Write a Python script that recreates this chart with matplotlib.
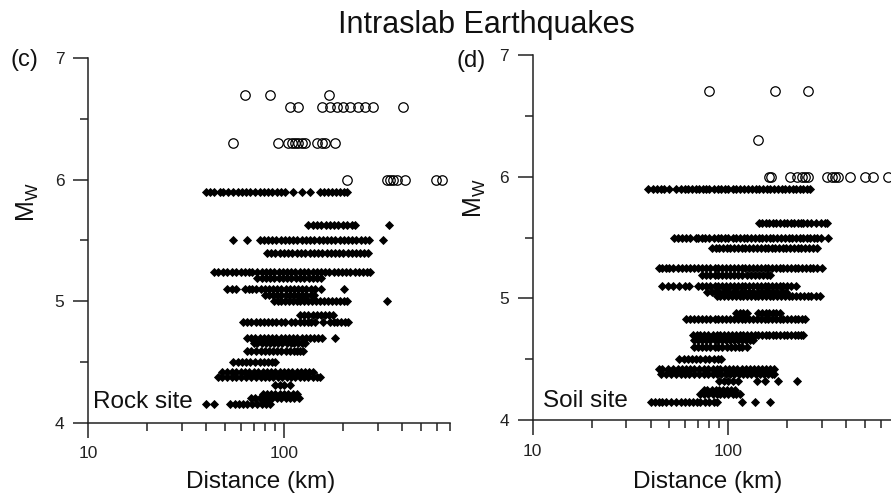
import matplotlib
matplotlib.use("Agg")
import matplotlib.pyplot as plt
from matplotlib.ticker import FixedLocator, MultipleLocator, NullFormatter, FixedFormatter

plt.rcParams['font.family'] = ['Liberation Sans', 'DejaVu Sans']

# Rock sites: small events (filled diamonds), one list of distances per magnitude
rock_small_mw = [5.9, 5.63, 5.5, 5.4, 5.24, 5.19, 5.1, 5.05, 5.0, 4.89, 4.83,
                 4.7, 4.66, 4.59, 4.5, 4.42, 4.38, 4.31, 4.24, 4.2, 4.15]
rock_small_km = [
    [40, 42, 44, 47, 49, 52, 55, 58, 61, 64, 67, 71, 75, 79, 83, 87, 92, 96,
     101, 111, 123, 136, 153, 160, 168, 176, 185, 194, 203, 209],
    [133, 140, 147, 155, 163, 171, 180, 189, 199, 210, 221, 230, 345],
    [55, 65, 75, 79, 83, 87, 91, 96, 101, 106, 111, 117, 123, 129, 136, 143,
     150, 158, 166, 174, 183, 192, 202, 212, 223, 234, 246, 258, 270, 318],
    [82, 86, 90, 95, 100, 105, 110, 116, 122, 128, 135, 142, 149, 157, 165,
     173, 182, 191, 201, 211, 222, 233, 245, 257, 269],
    [44, 46, 49, 51, 54, 57, 60, 63, 66, 69, 73, 77, 81, 85, 89, 94, 99, 104,
     109, 114, 120, 126, 133, 140, 147, 154, 162, 170, 179, 188, 197, 207,
     218, 229, 240, 252, 265, 275],
    [73, 77, 81, 85, 89, 94, 99, 104, 109, 115, 121, 127, 134, 141, 148, 155],
    [51, 54, 57, 63, 66, 69, 72, 76, 80, 84, 88, 92, 97, 102, 107, 112, 118,
     124, 130, 137, 144, 155, 202],
    [80, 84, 88, 92, 97, 102, 107, 112, 118, 124, 130, 137, 143],
    [89, 93, 97, 101, 106, 111, 116, 121, 127, 133, 139, 146, 153, 160, 168,
     176, 184, 193, 202, 210, 336],
    [121, 127, 133, 140, 147, 154, 162, 170, 178],
    [62, 65, 68, 72, 75, 79, 83, 87, 91, 96, 101, 109, 114, 120, 126, 132,
     138, 144, 158, 171, 179, 187, 196, 204, 212],
    [65, 68, 71, 75, 79, 83, 87, 91, 96, 101, 106, 111, 117, 123, 129, 135,
     142, 149, 156, 182],
    [70, 73, 77, 81, 85, 89, 93, 98, 103, 108, 113, 118, 123, 128],
    [65, 68, 72, 76, 80, 84, 88, 92, 97, 102, 107, 112, 117, 121, 125],
    [55, 58, 61, 64, 67, 71, 75, 79, 83, 87, 90],
    [48, 51, 54, 57, 60, 63, 66, 70, 74, 78, 82, 86, 90, 95, 100, 105, 110,
     116, 122, 128, 134, 140],
    [46, 48, 51, 54, 57, 60, 64, 68, 72, 76, 80, 84, 88, 93, 98, 103, 108,
     114, 120, 126, 133, 140, 147, 152],
    [90, 95, 100, 107],
    [78, 82, 86, 90, 95, 100, 105, 111, 117],
    [68, 71, 75, 79, 83, 87, 92, 97, 102, 107, 113, 119],
    [40, 44, 53, 56, 59, 62, 65, 69, 73, 77, 81, 85],
]

# Rock sites: large events (open circles)
rock_large_mw = [6.7, 6.6, 6.3, 6.0]
rock_large_km = [
    [63, 85, 170],
    [107, 118, 156, 172, 186, 200, 217, 239, 259, 285, 406],
    [55, 93, 105, 110, 114, 118, 123, 128, 147, 156, 162, 182],
    [210, 334, 347, 360, 376, 414, 597, 637],
]

# Soil sites: small events
soil_small_mw = [5.9, 5.62, 5.5, 5.41, 5.25, 5.19, 5.1, 5.05, 5.02, 4.88, 4.83,
                 4.7, 4.66, 4.6, 4.5, 4.42, 4.38, 4.32, 4.25, 4.21, 4.15]
soil_small_km = [
    [39, 41, 43, 45, 47, 50, 54, 57, 60, 62, 65, 68, 71, 74, 77, 80, 84, 88,
     92, 96, 100, 105, 110, 115, 120, 126, 132, 138, 144, 150, 157, 164, 171,
     179, 187, 195, 204, 213, 222, 231, 241, 251, 261],
    [143, 149, 155, 162, 169, 176, 184, 192, 200, 208, 217, 226, 235, 242,
     252, 265, 280, 296, 310, 318],
    [53, 55, 58, 61, 64, 68, 70, 73, 76, 80, 84, 88, 92, 96, 100, 105, 110,
     115, 120, 125, 131, 137, 143, 149, 156, 163, 170, 178, 186, 194, 203,
     212, 221, 231, 241, 251, 262, 273, 285, 297, 324],
    [82, 86, 90, 94, 98, 102, 107, 112, 117, 122, 128, 134, 140, 146, 153,
     160, 167, 174, 182, 190, 198, 207, 216, 226, 236, 247, 258, 270, 283],
    [44, 46, 48, 50, 52, 55, 58, 61, 64, 67, 70, 73, 77, 81, 85, 89, 93, 97,
     102, 107, 112, 117, 122, 128, 134, 140, 146, 153, 160, 167, 175, 183,
     191, 200, 209, 218, 228, 238, 249, 260, 272, 285, 300],
    [73, 77, 81, 85, 89, 93, 97, 102, 107, 112, 118, 124, 130, 136, 143, 150,
     157, 164],
    [46, 49, 52, 56, 60, 63, 70, 73, 77, 81, 85, 89, 93, 97, 102, 107, 112,
     117, 122, 128, 134, 140, 146, 153, 160, 167, 175, 183, 191, 200, 209, 222],
    [78, 82, 86, 90, 95, 100, 105, 110, 116, 122, 128, 134, 141, 148, 155,
     162, 170, 178, 187, 196],
    [87, 91, 95, 99, 104, 109, 114, 119, 124, 130, 136, 142, 149, 156, 163,
     170, 178, 186, 194, 203, 212, 222, 232, 243, 254, 266, 279, 293],
    [110, 114, 119, 124, 142, 148, 155, 162, 169, 176, 183],
    [61, 64, 67, 70, 73, 77, 81, 85, 89, 93, 97, 102, 107, 112, 117, 122,
     128, 134, 140, 146, 153, 160, 167, 175, 183, 191, 200, 209, 218, 228,
     237, 246],
    [66, 69, 72, 75, 79, 83, 87, 91, 95, 99, 104, 109, 114, 119, 124, 130,
     136, 142, 148, 155, 162, 169, 176, 184, 192, 200, 209, 218, 227, 236, 242],
    [67, 70, 73, 77, 81, 85, 89, 93, 97, 102, 107, 112, 117, 123, 129, 134],
    [67, 70, 73, 77, 81, 85, 89, 93, 98, 103, 108, 113, 118, 124],
    [56, 59, 62, 65, 68, 72, 76, 80, 84, 88, 92],
    [44, 46, 49, 52, 55, 58, 61, 64, 67, 71, 75, 79, 83, 87, 91, 96, 101,
     106, 111, 117, 123, 129, 135, 142, 149, 156, 164, 172],
    [45, 48, 51, 54, 57, 60, 63, 67, 71, 75, 79, 83, 87, 92, 97, 102, 107,
     113, 119, 125, 131, 138, 145, 152, 160, 168, 172],
    [90, 95, 100, 106, 112, 140, 153, 180, 225],
    [75, 78, 82, 86, 90, 94, 98, 103, 108],
    [72, 75, 79, 83, 87, 91, 95, 100, 105, 110, 115],
    [40, 42, 44, 46, 48, 51, 54, 57, 60, 63, 66, 69, 72, 76, 80, 84, 87,
     117, 136, 163],
]

# Soil sites: large events
soil_large_mw = [6.7, 6.3, 6.0]
soil_large_km = [
    [80, 173, 254],
    [141],
    [162, 166, 206, 223, 237, 246, 256, 318, 337, 351, 365, 418, 499, 550, 656],
]


def draw_panel(ax, small_mw, small_km, large_mw, large_km, xmax):
    for mw, km in zip(small_mw, small_km):
        ax.plot(km, [mw] * len(km), ls='none', marker='D', ms=4.2,
                mfc='k', mec='k', mew=0.6)
    for mw, km in zip(large_mw, large_km):
        ax.plot(km, [mw] * len(km), ls='none', marker='o', ms=6.8,
                mfc='none', mec='k', mew=0.9)

    ax.set_xscale('log')
    ax.set_xlim(10, xmax)
    ax.set_ylim(4, 7)
    ax.spines['top'].set_visible(False)
    ax.spines['right'].set_visible(False)
    for sp in ('left', 'bottom'):
        ax.spines[sp].set_linewidth(1.1)
        ax.spines[sp].set_color('#222222')

    ax.xaxis.set_major_locator(FixedLocator([10, 100]))
    ax.xaxis.set_major_formatter(FixedFormatter(['10', '100']))
    ax.xaxis.set_minor_locator(FixedLocator([20, 30, 40, 50, 60, 70, 80, 90,
                                             200, 300, 400, 500, 600, 700]))
    ax.xaxis.set_minor_formatter(NullFormatter())
    ax.yaxis.set_major_locator(FixedLocator([4, 5, 6, 7]))
    ax.yaxis.set_minor_locator(MultipleLocator(0.5))

    ax.tick_params(which='major', direction='out', length=11, width=1.1,
                   pad=6, labelsize=12.5, color='#222222', labelcolor='#222222')
    ax.tick_params(which='minor', direction='out', length=6, width=1.1,
                   color='#222222')


fig = plt.figure(figsize=(8.91, 4.95), dpi=100)

ax1 = fig.add_axes([0.0988, 0.1461, 0.4063, 0.7362])
draw_panel(ax1, rock_small_mw, rock_small_km, rock_large_mw, rock_large_km, 703)

ax2 = fig.add_axes([0.5979, 0.1515, 0.4021, 0.7374])
draw_panel(ax2, soil_small_mw, soil_small_km, soil_large_mw, soil_large_km, 678)

W, H = 891.0, 495.0
txt = dict(color='#111111')
fig.text(486.5 / W, 1 - 33 / H, 'Intraslab Earthquakes', ha='center',
         va='baseline', fontsize=22, **txt)
fig.text(10 / W, 1 - 60 / H, '(c)', ha='left', va='center', fontsize=17, **txt)
fig.text(457 / W, 1 - 61 / H, '(d)', ha='left', va='center', fontsize=17, **txt)
fig.text(93 / W, 1 - 408 / H, 'Rock site', ha='left', va='baseline',
         fontsize=17.5, **txt)
fig.text(543 / W, 1 - 407 / H, 'Soil site', ha='left', va='baseline',
         fontsize=17.5, **txt)
fig.text(261 / W, 1 - 488 / H, 'Distance (km)', ha='center', va='baseline',
         fontsize=17.5, **txt)
fig.text(708 / W, 1 - 488 / H, 'Distance (km)', ha='center', va='baseline',
         fontsize=17.5, **txt)
fig.text(28 / W, 1 - 202 / H, r'M$_\mathregular{W}$', ha='center', va='center',
         rotation=90, fontsize=18, **txt)
fig.text(475 / W, 1 - 198 / H, r'M$_\mathregular{W}$', ha='center', va='center',
         rotation=90, fontsize=18, **txt)

fig.savefig('out.png', dpi=100)
